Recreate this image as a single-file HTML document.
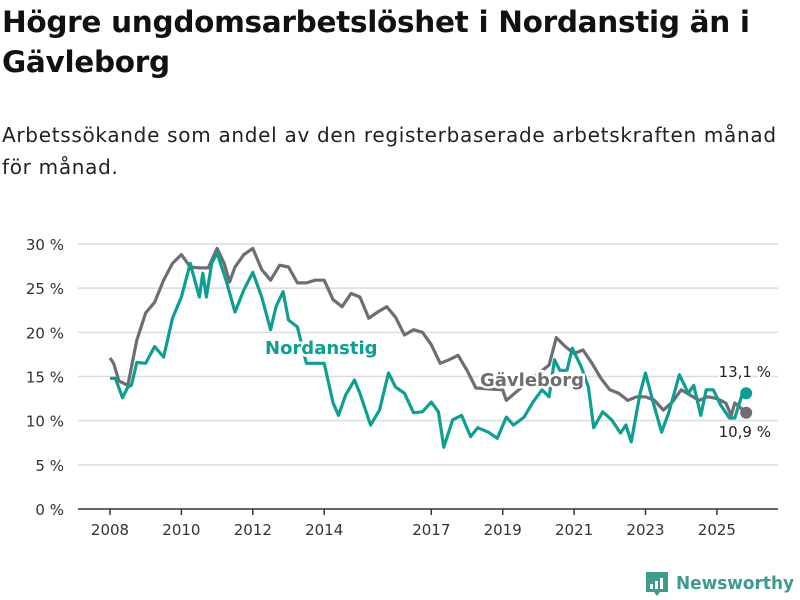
<!DOCTYPE html>
<html><head><meta charset="utf-8">
<style>
body{margin:0;background:#fff;font-family:"DejaVu Sans","Liberation Sans",sans-serif;}
#wrap{position:relative;width:800px;height:600px;overflow:hidden;}
h1{position:absolute;left:2px;top:2px;margin:0;font-size:29.5px;line-height:40px;font-weight:bold;color:#111;width:796px;letter-spacing:-0.3px;}
.sub{position:absolute;left:2px;top:119px;margin:0;font-size:20px;line-height:32px;color:#222;width:798px;letter-spacing:0.7px;white-space:nowrap;}
svg{position:absolute;left:0;top:0;}
</style></head><body>
<div id="wrap">
<h1>Högre ungdomsarbetslöshet i Nordanstig än i<br>Gävleborg</h1>
<p class="sub">Arbetssökande som andel av den registerbaserade arbetskraften månad<br>för månad.</p>
<svg id="chart" width="800" height="600"></svg>
</div>
<script>
const yTicks=[0,5,10,15,20,25,30];
const xTickYears=[2008,2010,2012,2014,2017,2019,2021,2023,2025];
const gavDates=[2008.0,2008.1,2008.25,2008.5,2008.75,2009.0,2009.25,2009.5,2009.75,2010.0,2010.25,2010.5,2010.75,2011.0,2011.2,2011.35,2011.5,2011.75,2012.0,2012.25,2012.5,2012.75,2013.0,2013.25,2013.5,2013.75,2014.0,2014.25,2014.5,2014.75,2015.0,2015.25,2015.5,2015.75,2016.0,2016.25,2016.5,2016.75,2017.0,2017.25,2017.5,2017.75,2018.0,2018.25,2018.6,2019.0,2019.1,2019.6,2020.3,2020.5,2020.75,2021.0,2021.25,2021.5,2021.75,2022.0,2022.25,2022.5,2022.75,2023.0,2023.25,2023.5,2023.75,2024.0,2024.25,2024.5,2024.75,2025.0,2025.25,2025.4,2025.5,2025.82];
const gavValues=[17.1,16.5,14.5,14.0,19.1,22.2,23.4,25.9,27.8,28.8,27.4,27.3,27.3,29.5,27.8,25.7,27.4,28.8,29.5,27.1,25.9,27.6,27.4,25.6,25.6,25.9,25.9,23.7,22.9,24.4,24.0,21.6,22.3,22.9,21.7,19.7,20.3,20.0,18.6,16.5,16.9,17.4,15.7,13.7,13.6,13.5,12.3,14.0,16.3,19.4,18.4,17.6,18.0,16.5,14.8,13.5,13.1,12.3,12.7,12.7,12.3,11.2,12.1,13.5,12.9,12.3,12.7,12.5,12.0,10.6,12.0,10.9];
const norDates=[2008.0,2008.15,2008.35,2008.5,2008.6,2008.75,2009.0,2009.25,2009.5,2009.75,2010.0,2010.25,2010.5,2010.6,2010.7,2010.85,2011.0,2011.25,2011.5,2011.75,2012.0,2012.25,2012.5,2012.65,2012.85,2013.0,2013.25,2013.5,2013.75,2014.0,2014.25,2014.4,2014.6,2014.85,2015.0,2015.3,2015.55,2015.8,2016.0,2016.25,2016.5,2016.75,2017.0,2017.2,2017.35,2017.6,2017.85,2018.1,2018.3,2018.6,2018.85,2019.1,2019.3,2019.6,2019.85,2020.1,2020.3,2020.45,2020.6,2020.8,2020.95,2021.2,2021.4,2021.55,2021.8,2022.05,2022.3,2022.45,2022.6,2022.85,2023.0,2023.2,2023.45,2023.65,2023.95,2024.2,2024.35,2024.55,2024.7,2024.9,2025.1,2025.35,2025.5,2025.7,2025.82];
const norValues=[14.8,14.8,12.6,13.8,14.0,16.6,16.5,18.4,17.2,21.6,24.0,27.8,24.0,26.7,24.0,27.8,29.0,25.9,22.3,24.8,26.8,24.0,20.3,22.9,24.6,21.4,20.6,16.5,16.5,16.5,12.0,10.6,12.9,14.6,13.1,9.5,11.2,15.4,13.8,13.1,10.9,11.0,12.1,11.0,7.0,10.1,10.6,8.2,9.2,8.7,8.0,10.4,9.5,10.4,12.1,13.5,12.7,16.9,15.7,15.7,18.2,16.1,13.8,9.2,11.0,10.1,8.6,9.5,7.6,13.1,15.4,12.3,8.7,10.9,15.2,13.1,14.0,10.6,13.5,13.5,11.8,10.3,10.3,12.9,13.1];
const NS='http://www.w3.org/2000/svg';
const svg=document.getElementById('chart');
const X=t=>110+(t-2008)*35.7;
const Y=v=>509-v*8.833;
function mk(tag,attrs){const e=document.createElementNS(NS,tag);for(const k in attrs)e.setAttribute(k,attrs[k]);svg.appendChild(e);return e;}
yTicks.forEach(v=>{
  if(v>0){const g=mk('line',{x1:78,x2:778,y1:Y(v),y2:Y(v),stroke:'#dcdcdc','stroke-width':1.5});
  
  }
  const t=mk('text',{x:64,y:Y(v)+6,'text-anchor':'end','font-size':15,fill:'#333'});
  t.textContent=v+' %';
  
  
});
const ax=mk('line',{x1:78,x2:778,y1:509,y2:509,stroke:'#333','stroke-width':1.5});


xTickYears.forEach(yr=>{
  const tk=mk('line',{x1:X(yr),x2:X(yr),y1:509,y2:515,stroke:'#333','stroke-width':1.5});
  
  
  const t=mk('text',{x:X(yr),y:535,'text-anchor':'middle','font-size':15,fill:'#333'});
  t.textContent=yr;
  
  
});
function line(d,v,col,name){
  const p=mk('path',{d:d.map((t,i)=>(i?'L':'M')+X(t).toFixed(1)+','+Y(v[i]).toFixed(1)).join(''),fill:'none',stroke:col,'stroke-width':3.2,'stroke-linejoin':'round'});
  
  
}
line(gavDates,gavValues,'#6e6d73','gavleborg-line');
line(norDates,norValues,'#0f9e92','nordanstig-line');
function label(x,y,txt,col,name,bold,size,anchor){
  const t=mk('text',{x:x,y:y,'font-size':size,'font-weight':bold?'bold':'normal',fill:col,stroke:'#fff','stroke-width':bold?5:4,'paint-order':'stroke','text-anchor':anchor||'start'});
  t.textContent=txt;
  
  
}
label(265,354,'Nordanstig','#0f9e92','nordanstig-label',true,18);
label(480,386,'Gävleborg','#6e6d73','gavleborg-label',true,18);
const nl=norDates.length-1,gl=gavDates.length-1;
const d1=mk('circle',{cx:X(norDates[nl]),cy:Y(norValues[nl]),r:6,fill:'#0f9e92'});


const d2=mk('circle',{cx:X(gavDates[gl]),cy:Y(gavValues[gl]),r:6,fill:'#6e6d73'});


label(771,377,norValues[nl].toFixed(1).replace('.',',')+' %','#222','nordanstig-end-value',false,15,'end');
label(771,437,gavValues[gl].toFixed(1).replace('.',',')+' %','#222','gavleborg-end-value',false,15,'end');
// logo
const lg=mk('path',{d:'M646 572h22v20h-8l-3 4-3-4h-8z',fill:'#3f9a90'});


[[650,584,3,5],[655,581,3,8],[660,578,3,11]].forEach(b=>{const r=mk('rect',{x:b[0],y:b[1],width:b[2],height:b[3],fill:'#fff'});

});
const lt=mk('text',{x:676,y:589,'font-size':18,fill:'#3f9a90','font-weight':'bold',textLength:118,lengthAdjust:'spacingAndGlyphs'});
lt.textContent='Newsworthy';


</script>
</body></html>
